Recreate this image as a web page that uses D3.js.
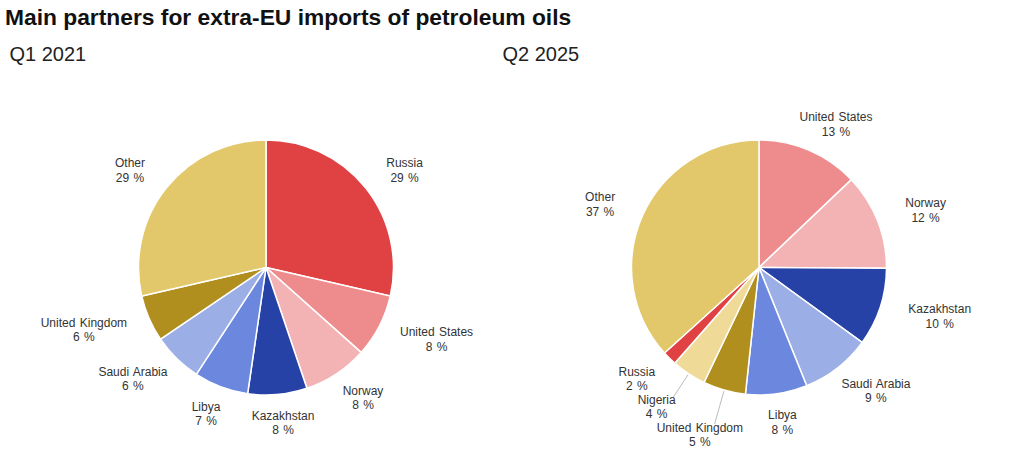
<!DOCTYPE html>
<html>
<head>
<meta charset="utf-8">
<script src="https://cdn.jsdelivr.net/npm/d3@7"></script>
<style>
  body { margin: 0; background: #fff; }
  text { font-family: "Liberation Sans", Arial, sans-serif; }
</style>
</head>
<body>
<div id="chart"></div>
<script>
// shares of extra-EU petroleum oil imports (%)
var periods = ["Q1 2021", "Q2 2025"];

var categoriesQ1 = ["Russia", "United States", "Norway", "Kazakhstan", "Libya",
                    "Saudi Arabia", "United Kingdom", "Other"];
var valuesQ1 = [28.6, 8.0, 8.2, 7.5, 6.9, 6.3, 5.9, 28.6];

var categoriesQ2 = ["United States", "Norway", "Kazakhstan", "Saudi Arabia", "Libya",
                    "United Kingdom", "Nigeria", "Russia", "Other"];
var valuesQ2 = [12.9, 12.2, 9.9, 8.9, 7.8, 5.4, 4.4, 1.8, 36.7];

var partnerNames = ["Russia", "United States", "Norway", "Kazakhstan", "Libya",
                    "Saudi Arabia", "United Kingdom", "Nigeria", "Other"];
var partnerColors = ["#e04244", "#ee8b8c", "#f3b3b4", "#2642a6", "#6b87de",
                     "#9caee6", "#b08f1e", "#efda98", "#e2c86b"];

var width = 1024,
    height = 471,
    radius = 127.5,
    labelGap = 17,
    lineHeight = 14.4,
    labelHeight = 23,   // cap top of line 1 to baseline of line 2
    hitHeight = 28;     // full font box used for collisions

var svg = d3.select("#chart").append("svg")
    .attr("width", width)
    .attr("height", height);

svg.append("text")
    .text("Main partners for extra-EU imports of petroleum oils")
    .attr("x", 5)
    .attr("y", 25)
    .attr("font-size", "22.8px")
    .attr("font-weight", "bold")
    .attr("fill", "#111");

var color = d3.scaleOrdinal().domain(partnerNames).range(partnerColors);

var pie = d3.pie().sort(null).value(function (d) { return d.value; });
var arc = d3.arc().innerRadius(0).outerRadius(radius);

var panels = [
  { x0: 0, title: periods[0], cats: categoriesQ1, vals: valuesQ1 },
  { x0: 493, title: periods[1], cats: categoriesQ2, vals: valuesQ2 }
];

// label box just outside the rim, pushed outward by its own half size
function placeLabel(d, gap, w) {
  var a = (d.startAngle + d.endAngle) / 2,
      s = Math.sin(a), c = Math.cos(a);
  var px = (radius + gap) * s, py = -(radius + gap) * c;
  return { a: a, px: px, py: py, x: px + s * w / 2, y: py - c * labelHeight / 2, w: w, gap: gap };
}

function overlaps(p, q) {
  return Math.abs(p.x - q.x) < (p.w + q.w) / 2 + 2 &&
         Math.abs(p.y - q.y) < hitHeight;
}

panels.forEach(function (p) {
  svg.append("text")
    .text(p.title)
    .attr("x", p.x0 + 9.5)
    .attr("y", 61)
    .attr("font-size", "20px")
    .attr("fill", "#222");

  var data = p.cats.map(function (c, i) { return { name: c, value: p.vals[i] }; });
  var arcs = pie(data);

  var g = svg.append("g")
    .attr("transform", "translate(" + (p.x0 + 266) + ",267.5)");

  g.selectAll("path.slice")
    .data(arcs)
    .enter()
      .append("path")
      .attr("class", "slice")
      .attr("d", arc)
      .attr("fill", function (d) { return color(d.data.name); })
      .attr("stroke", "#fff")
      .attr("stroke-width", 1.5);

  var labels = g.selectAll("text.label")
    .data(arcs)
    .enter()
      .append("text")
      .attr("class", "label")
      .attr("font-size", "12px")
      .attr("fill", "#333")
      .attr("text-anchor", "middle")
      .attr("word-spacing", "1px");

  labels.append("tspan").attr("class", "l1").text(function (d) { return d.data.name; });
  labels.append("tspan").attr("class", "l2").text(function (d) { return Math.round(d.value) + " %"; });

  // smaller slices get their label first, later ones move outward on collision
  var order = arcs.map(function (d, i) { return i; })
    .sort(function (a, b) { return arcs[a].value - arcs[b].value; });
  var nodes = labels.nodes();
  var placed = [], pos = [];

  order.forEach(function (i) {
    var w = nodes[i].getBBox().width;
    var gap = labelGap;
    var lp = placeLabel(arcs[i], gap, w);
    while (placed.some(function (q) { return overlaps(lp, q); }) && gap < 90) {
      gap += 1;
      lp = placeLabel(arcs[i], gap, w);
    }
    placed.push(lp);
    pos[i] = lp;
  });

  labels.each(function (d, i) {
    var lp = pos[i];
    var base = lp.y - labelHeight / 2 + 8.6;
    d3.select(this).select(".l1").attr("x", lp.x).attr("y", base);
    d3.select(this).select(".l2").attr("x", lp.x).attr("y", base + lineHeight);
  });

  g.selectAll("polyline.connector")
    .data(arcs.filter(function (d, i) { return pos[i].gap > labelGap + 3; }))
    .enter()
      .append("polyline")
      .attr("class", "connector")
      .attr("points", function (d) {
        var lp = pos[arcs.indexOf(d)];
        var s = Math.sin(lp.a), c = Math.cos(lp.a);
        return [(radius + 1) * s, -(radius + 1) * c, lp.px, lp.py].join(",");
      })
      .attr("fill", "none")
      .attr("stroke", "#bbb")
      .attr("stroke-width", 1);
});
</script>
</body>
</html>
